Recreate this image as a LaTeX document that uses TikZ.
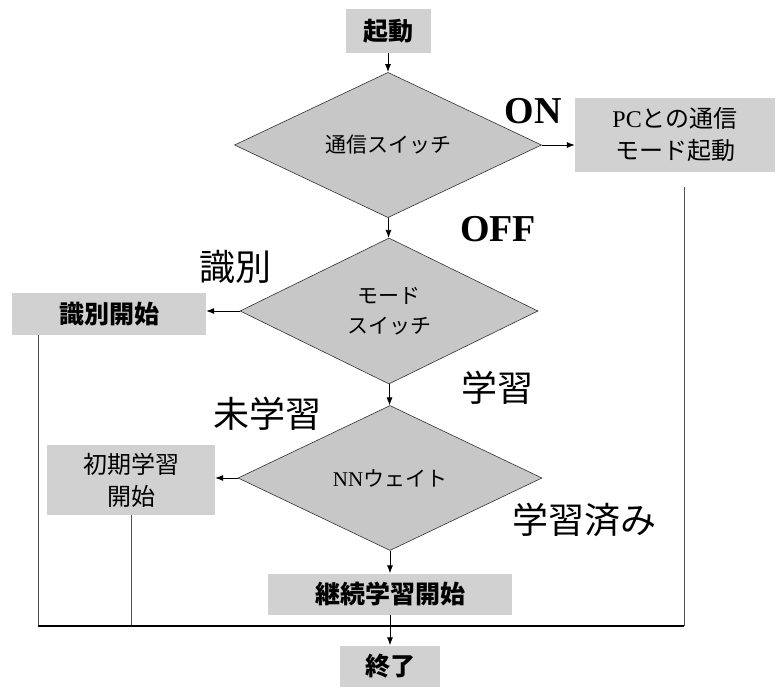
\documentclass[tikz,border=0pt]{standalone}
\usepackage{fontspec}
\setmainfont{Liberation Serif}
\newfontfamily\jp{Noto Sans CJK JP}
\usetikzlibrary{shapes.geometric,arrows.meta}
\begin{document}
\begin{tikzpicture}[x=1pt,y=-1pt,
  box/.style={fill=black!18, draw=none, inner sep=0pt, align=center,
    font=\jp\fontsize{24}{32}\selectfont},
  bbox/.style={box, font=\jp\bfseries\fontsize{25}{30}\selectfont},
  dec/.style={diamond, fill=black!22, draw=black!80, line width=0.6pt,
    inner sep=0pt, align=center, font=\jp\fontsize{21}{30}\selectfont},
  lab/.style={font=\jp\fontsize{36}{40}\selectfont, inner sep=0pt},
  en/.style={font=\bfseries\fontsize{38}{40}\selectfont, inner sep=0pt},
  arr/.style={-{Latex[length=8pt,width=6pt]}, line width=0.8pt},
  ln/.style={line width=1pt, black!70}]
\useasboundingbox (0,0) rectangle (776,688);

\node[bbox, minimum width=85pt, minimum height=44pt] (start) at (388,31) {起動};
\node[dec, minimum width=307pt, minimum height=142pt] (d1) at (388,145) {通信スイッチ};
\node[box, minimum width=200pt, minimum height=74pt] (pc) at (675,135) {{\rmfamily PC}との通信\\モード起動};
\node[dec, minimum width=298pt, minimum height=146pt] (d2) at (389,311) {モード\\スイッチ};
\node[bbox, minimum width=194pt, minimum height=42pt] (idst) at (109,314) {識別開始};
\node[dec, minimum width=304pt, minimum height=145pt] (d3) at (390,478) {{\rmfamily NN}ウェイト};
\node[box, minimum width=168pt, minimum height=70pt] (init) at (131,480) {初期学習\\開始};
\node[bbox, minimum width=244pt, minimum height=41pt] (cont) at (390,594) {継続学習開始};
\node[bbox, minimum width=100pt, minimum height=41pt] (end) at (390,666) {終了};

\node[en] (on) at (533,111) {ON};
\node[en] (off) at (498,229) {OFF};
\node[lab] (lid) at (235,267) {識別};
\node[lab] (lgk) at (497,388) {学習};
\node[lab] (lmi) at (267,414) {未学習};
\node[lab] (lzm) at (584,520) {学習済み};

\coordinate (bl) at (38,626);
\coordinate (bm) at (131,626);
\coordinate (br) at (684,626);
\coordinate (rt) at (684,187);

\draw[arr] (start) -- (d1);
\draw[arr] (d1) -- (d2);
\draw[arr] (d2) -- (d3);
\draw[arr] (d3) -- (cont);
\draw[arr] (d1.east) -- (d1.east -| pc.west);
\draw[arr] (d2.west) -- (d2.west -| idst.east);
\draw[arr] (d3.west) -- (d3.west -| init.east);

\draw[ln] (idst.south -| bl) -- (bl);
\draw[ln] (init.south) -- (bm);
\draw[ln] (rt) -- (br);
\draw[line width=1.2pt] (bl) -- (br);
\draw[arr] (cont) -- (end);
\end{tikzpicture}
\end{document}
